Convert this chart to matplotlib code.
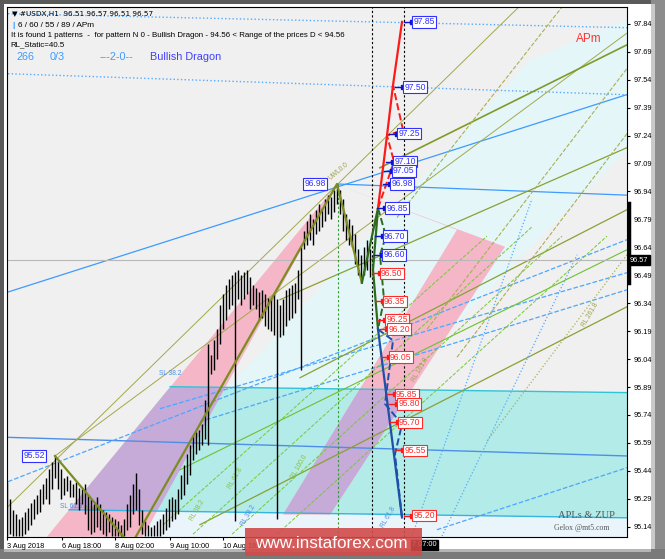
import numpy as np
import matplotlib.pyplot as plt
from matplotlib.patches import Polygon, Rectangle
import matplotlib.transforms as mtransforms

plt.rcParams['font.family'] = ['Liberation Sans', 'DejaVu Sans']

# USDX H1 bars (one entry per drawn bar)
highs = [95.38, 95.29, 95.23, 95.21, 95.18, 95.19, 95.22, 95.24, 95.27, 95.29,
         95.31, 95.34, 95.37, 95.40, 95.45, 95.49, 95.52, 95.49, 95.45, 95.40,
         95.41, 95.39, 95.37, 95.38, 95.35, 95.34, 95.37, 95.31, 95.29, 95.26,
         95.30, 95.26, 95.23, 95.22, 95.21, 95.19, 95.18, 95.17, 95.15, 95.18,
         95.26, 95.31, 95.37, 95.43, 95.34, 95.23, 95.17, 95.15, 95.14, 95.15,
         95.17, 95.18, 95.21, 95.24, 95.29, 95.30, 95.29, 95.34, 95.42, 95.47,
         95.53, 95.58, 95.63, 95.65, 95.66, 95.69, 95.82, 96.12, 96.06, 96.14,
         96.20, 96.33, 96.39, 96.44, 96.47, 96.49, 96.51, 96.52, 96.49, 96.51,
         96.52, 96.48, 96.44, 96.42, 96.40, 96.41, 96.39, 96.37, 96.36, 96.39,
         96.36, 96.33, 96.36, 96.41, 96.42, 96.44, 96.45, 96.52, 96.64, 96.73,
         96.78, 96.82, 96.79, 96.84, 96.87, 96.85, 96.90, 96.92, 96.91, 96.95,
         96.98, 96.95, 96.90, 96.82, 96.79, 96.76, 96.71, 96.63, 96.60, 96.64,
         96.68, 96.63, 96.60]
lows = [95.09, 95.10, 95.09, 95.09, 95.09, 95.09, 95.10, 95.12, 95.15, 95.18,
        95.21, 95.22, 95.26, 95.29, 95.26, 95.34, 95.40, 95.34, 95.29, 95.31,
        95.33, 95.30, 95.30, 95.26, 95.23, 95.26, 95.21, 95.12, 95.10, 95.11,
        95.14, 95.12, 95.10, 95.09, 95.11, 95.09, 95.09, 95.09, 95.09, 95.09,
        95.12, 95.14, 95.21, 95.23, 95.15, 95.10, 95.09, 95.09, 95.09, 95.09,
        95.09, 95.09, 95.10, 95.12, 95.14, 95.17, 95.18, 95.21, 95.29, 95.31,
        95.37, 95.42, 95.50, 95.53, 95.55, 95.58, 95.61, 95.58, 95.96, 95.98,
        96.04, 96.12, 96.20, 96.25, 96.31, 96.33, 95.17, 96.36, 96.33, 96.36,
        96.39, 96.31, 96.33, 96.31, 96.25, 96.26, 96.22, 96.20, 96.19, 96.17,
        95.18, 96.16, 96.17, 96.22, 96.25, 96.26, 96.29, 96.36, 95.98, 96.63,
        96.65, 96.68, 96.65, 96.71, 96.73, 96.75, 96.78, 96.82, 96.79, 96.83,
        96.87, 96.82, 96.73, 96.68, 96.65, 96.64, 96.55, 96.49, 96.46, 96.49,
        96.52, 96.48, 96.56]
last_price = 96.57

y_ticks = [95.14, 95.29, 95.44, 95.59, 95.74, 95.89, 96.04, 96.19, 96.34, 96.49,
           96.64, 96.79, 96.94, 97.09, 97.24, 97.39, 97.54, 97.69, 97.84]
x_tick_pos = [0, 18.3, 36, 54.3, 72, 90, 107.7, 125.7]
# the last three labels sit under the watermark in the source picture
x_tick_labels = ['3 Aug 2018', '6 Aug 18:00', '8 Aug 02:00', '9 Aug 10:00',
                 '10 Aug 18:00', '', '', '']

# X-A-B-C legs of the dragon
xabc_x = [16, 41.3, 110, 118.3]
xabc_y = [95.52, 95.04, 96.98, 96.45]
# projected legs after C
green_x = [118.3, 123.67, 122.0, 123.67]
green_y = [96.45, 96.85, 96.52, 96.20]
green_dash_x = [123.67, 126.33, 124.33, 125.67, 123.67]
green_dash_y = [96.85, 96.70, 96.60, 96.36, 96.20]
red_x = [123.67, 126.67, 128.67, 131.67]
red_y = [96.85, 97.24, 97.51, 97.85]
red_dash_x = [123.67, 129.0, 126.67, 132.0, 128.67]
red_dash_y = [96.85, 97.10, 97.24, 97.27, 97.51]
blue_x = [123.67, 131.67]
blue_y = [96.20, 95.19]
blue_dash_x = [123.67, 128.67, 126.0, 131.67, 129.33, 131.67]
blue_dash_y = [96.20, 96.14, 95.80, 95.69, 95.53, 95.19]

# level boxes: value, left edge (bar)
blue_lbl_vals = [97.85, 97.50, 97.25, 97.10, 97.05, 96.98, 96.85, 96.70, 96.60]
blue_lbl_x = [135, 132, 130, 128.7, 128.3, 127.7, 126, 125.3, 125]
red_lbl_vals = [96.50, 96.35, 96.25, 96.20, 96.05, 95.85, 95.80, 95.70, 95.55, 95.20]
red_lbl_x = [124.3, 125.3, 126, 126.7, 127.3, 129.3, 130, 130.3, 132, 135]
pivot_lbl_vals = [96.98, 95.52]
pivot_lbl_x = [98.7, 5]

# shaded zones (bar, price)
pink1_x = [13.33, 45.33, 110]
pink1_y = [95.087, 95.087, 96.976]
pink2_x = [110, 166, 107.67, 92, 150]
pink2_y = [96.976, 96.643, 95.205, 95.205, 96.734]
band_x = [20.65, 206.67, 206.67, 54.4]
band_y = [95.231, 95.188, 95.86, 95.892]
cyan_x = [73, 137.67, 174.33, 206.67, 206.67, 147.67, 127.67]
cyan_y = [95.876, 97.003, 97.647, 97.862, 97.164, 96.198, 95.876]
low_strip_x = [45.3, 206.67, 206.67, 45.3]
low_strip_y = [95.225, 95.188, 95.085, 95.085]

# lines: x0, y0, x1, y1, colour, style, width
lines = [
    (0.33, 96.40, 206.67, 97.46, '#3d9bff', '-', 0.9),
    (110, 96.98, 206.67, 96.92, '#3d9bff', '-', 0.9),
    (0.33, 95.62, 206.67, 95.52, '#4d8fe8', '-', 1.0),
    (54.4, 95.892, 206.67, 95.86, '#33c3d6', '-', 1.0),
    (20.65, 95.231, 206.67, 95.188, '#33b5e0', '-', 1.0),
    (0.33, 97.894, 206.67, 97.819, '#55aaff', ':', 1.0),
    (0.33, 97.572, 206.67, 97.459, '#55aaff', ':', 1.0),
    (0.33, 95.382, 206.67, 96.681, '#4da6ff', '--', 0.9),
    (143.3, 95.124, 206.67, 95.457, '#4da6ff', '--', 0.9),
    (51, 95.774, 206.67, 96.504, '#4da6ff', '--', 0.9),
    (64.3, 95.704, 206.67, 96.412, '#4da6ff', '--', 0.9),
    (16, 95.52, 206.67, 97.79, '#a3a84a', '-', 0.7),
    (0.33, 95.248, 170.67, 97.931, '#a3a84a', '-', 0.7),
    (124.3, 97.067, 206.67, 97.727, '#7f9a2a', '-', 1.2),
    (91, 96.359, 206.67, 97.175, '#8aa035', '-', 0.9),
    (97.67, 95.94, 206.67, 96.842, '#8aa035', '-', 0.9),
    (64.3, 95.151, 206.67, 96.321, '#8aa035', '-', 0.9),
    (57.67, 95.446, 206.67, 96.627, '#70c030', '-', 0.8),
    (52, 95.15, 160, 96.70, '#77c83a', '--', 0.7),
    (62, 95.10, 175, 96.75, '#77c83a', '--', 0.7),
    (75, 95.10, 185, 96.70, '#77c83a', '--', 0.7),
    (90, 95.10, 200, 96.70, '#77c83a', '--', 0.7),
    (140, 96.20, 206.67, 97.60, '#a9b055', '--', 0.8),
    (150, 96.05, 206.67, 97.25, '#a9b055', '--', 0.8),
    (130, 96.80, 185, 97.93, '#a9b055', '--', 0.8),
    (160, 95.60, 206.67, 96.60, '#a9b055', ':', 0.9),
    (135, 95.09, 175, 96.90, '#55aaff', ':', 0.9),
    (145, 95.09, 190, 96.60, '#55aaff', ':', 0.9),
]

# line labels: text, bar, price, angle, colour
line_notes = [
    ('UWL0.0', 110.5, 97.05, 40, '#a0a050'),
    ('SL 38.2', 54.5, 95.96, 0, '#4d8fe8'),
    ('SL 61.8', 21.5, 95.25, 0, '#4d8fe8'),
    ('½ ML', 28, 95.24, 0, '#8a9a3a'),
    ('RL 100.0', 97.5, 95.46, 60, '#88c040'),
    ('RL 61.8', 76, 95.40, 60, '#88c040'),
    ('RL 38.2', 63.3, 95.23, 60, '#88c040'),
    ('RL 38.2', 80.3, 95.20, 60, '#4d8fe8'),
    ('RL 61.8', 127, 95.19, 60, '#4d8fe8'),
    ('RL 161.8', 137.7, 95.98, 60, '#a0a050'),
    ('RL 261.8', 194.3, 96.28, 60, '#a0a050'),
]

W, H = 665, 559
fig = plt.figure(figsize=(W / 100, H / 100), dpi=100, facecolor='#5a5a5a')


def px_rect(x, y, w, h, color, z=0):
    fig.add_artist(Rectangle((x / W, 1 - (y + h) / H), w / W, h / H,
                             transform=fig.transFigure, color=color, zorder=z, lw=0))


# outer frame and bevel
px_rect(4, 4, 647, 545, '#ffffff')
px_rect(651, 0, 14, H, '#8c8c8c')
px_rect(651, 4, 4, 545, '#c9c9c9')
px_rect(0, 549, W, 10, '#7a7a7a')
px_rect(4, 549, 647, 3, '#b5b5b5')

ax = fig.add_axes([7 / W, (H - 537) / H, 620 / W, 530 / H])
ax.set_facecolor('#f0f0f0')
ax.set_xlim(0, 206.67)
ax.set_ylim(95.085, 97.93)

# zones
ax.add_patch(Polygon(list(zip(cyan_x, cyan_y)), closed=True, fc='#e4f6f8', ec='none', zorder=0.5))
ax.add_patch(Polygon(list(zip(low_strip_x, low_strip_y)), closed=True, fc='#eaf5fb', ec='none', zorder=0.5))
band = Polygon(list(zip(band_x, band_y)), closed=True, fc='#b2ebe7', ec='none', zorder=0.8)
ax.add_patch(band)
for px_, py_ in [(pink1_x, pink1_y), (pink2_x, pink2_y)]:
    ax.add_patch(Polygon(list(zip(px_, py_)), closed=True, fc='#f5b6c8', ec='none', zorder=1))
    purple = Polygon(list(zip(px_, py_)), closed=True, fc='#c6aad8', ec='none', zorder=1.1)
    ax.add_patch(purple)
    purple.set_clip_path(band)

for x0, y0, x1, y1, c, ls, lw in lines:
    ax.plot([x0, x1], [y0, y1], color=c, ls=ls, lw=lw, zorder=2)

ax.axhline(last_price, color='#b8b8b8', lw=0.8, zorder=2)
ax.axvline(121.67, color='black', ls=(0, (2, 2)), lw=0.8, zorder=2)
ax.axvline(132.33, color='black', ls=(0, (2, 2)), lw=0.8, zorder=2)
ax.plot([110.3, 110.3], [96.98, 95.0], color='#339933', ls=(0, (2, 2)), lw=0.8, zorder=2)

# bars
n = len(highs)
ax.vlines(np.arange(n), lows, highs, color='black', lw=1.0, zorder=3)

# pattern legs
ax.plot(xabc_x, xabc_y, color='#7d8c1f', lw=1.6, zorder=4)
ax.plot(green_x, green_y, color='#2e6b1e', lw=1.6, zorder=4)
ax.plot(green_dash_x, green_dash_y, color='#2e6b1e', lw=1.4, ls='--', zorder=4)
ax.plot(red_x, red_y, color='#ff1a1a', lw=1.6, zorder=4)
ax.plot(red_dash_x, red_dash_y, color='#ff1a1a', lw=1.4, ls='--', zorder=4)
ax.plot(blue_x, blue_y, color='#1f4fa8', lw=1.6, zorder=4)
ax.plot(blue_dash_x, blue_dash_y, color='#1f4fa8', lw=1.4, ls='--', zorder=4)


def level_box(x, v, tc, ec, mc):
    ax.plot([x - 2.5, x], [v, v], color=mc, lw=1.0, zorder=5)
    ax.plot([x], [v], marker='s', ms=2.5, color=mc, zorder=5)
    ax.text(x + 0.4, v, f'{v:.2f}', fontsize=6.2, color=tc, ha='left', va='center', zorder=6,
            bbox=dict(boxstyle='square,pad=0.15', fc='white', ec=ec, lw=0.8))


for v, x in zip(blue_lbl_vals, blue_lbl_x):
    level_box(x, v, '#3030ff', '#3030ff', '#1010d0')
for v, x in zip(red_lbl_vals, red_lbl_x):
    level_box(x, v, '#ff2a2a', '#ff2a2a', '#ff1a1a')
for v, x in zip(pivot_lbl_vals, pivot_lbl_x):
    ax.text(x + 0.4, v, f'{v:.2f}', fontsize=6.2, color='#3030ff', ha='left', va='center', zorder=6,
            bbox=dict(boxstyle='square,pad=0.15', fc='white', ec='#3030ff', lw=0.8))

for s, x, y, r, c in line_notes:
    ax.text(x, y, s, fontsize=4.8, color=c, rotation=r, ha='center', va='center', zorder=2.5)

# axes styling
for sp in ax.spines.values():
    sp.set_color('black')
    sp.set_linewidth(0.8)
ax.yaxis.tick_right()
ax.set_yticks(y_ticks)
ax.set_yticklabels([f'{v:.2f}' for v in y_ticks])
ax.tick_params(axis='y', labelsize=5.3, length=2.5, pad=2, colors='black')
ax.set_xticks(x_tick_pos)
ax.set_xticklabels(x_tick_labels, ha='left')
ax.tick_params(axis='x', labelsize=5.3, length=2.5, pad=2, colors='black')

tr = mtransforms.blended_transform_factory(ax.transAxes, ax.transData)
ax.plot([1.003, 1.003], [96.45, 96.88], transform=tr, color='black', lw=2.5, clip_on=False, zorder=7)
ax.text(1.005, last_price, '96.57', transform=tr, fontsize=5.3, color='white', ha='left', va='center',
        zorder=8, bbox=dict(boxstyle='square,pad=0.2', fc='black', ec='black'))

# header texts
ax.text(0.008, 0.987, '▼ #USDX,H1  96.51 96.57 96.51 96.57', transform=ax.transAxes,
        fontsize=5.2, color='black', va='center', family=['DejaVu Sans'], zorder=9)
ax.text(0.009, 0.965, '|', transform=ax.transAxes, fontsize=6, color='#3d9bff', va='center',
        fontweight='bold', zorder=9)
ax.text(0.018, 0.965, '6 / 60 / 55 / 89 / APm', transform=ax.transAxes, fontsize=5.9,
        color='black', va='center', zorder=9)
ax.text(0.006, 0.947, 'It is found 1 patterns  -  for pattern N 0 - Bullish Dragon - 94.56 < '
        'Range of the prices D < 94.56', transform=ax.transAxes, fontsize=5.7, color='black',
        va='center', zorder=9)
ax.text(0.006, 0.928, 'RL_Static=40.5', transform=ax.transAxes, fontsize=5.7, color='black',
        va='center', zorder=9)
for s, xx, c in [('266', 0.016, '#3d9bff'), ('0/3', 0.069, '#3d9bff'),
                 ('---2-0--', 0.150, '#3d9bff'), ('Bullish Dragon', 0.231, '#4040ff')]:
    ax.text(xx, 0.906, s, transform=ax.transAxes, fontsize=7.8, color=c, va='center', zorder=9)

ax.text(0.918, 0.939, 'APm', transform=ax.transAxes, fontsize=8.5, color='#ff3333', va='center', zorder=9)
ax.text(0.889, 0.04, 'APLs & ZUP', transform=ax.transAxes, fontsize=7.6, color='#555555',
        family=['Liberation Serif'], va='center', zorder=9)
ax.text(0.882, 0.017, 'Gelox @mt5.com', transform=ax.transAxes, fontsize=5.6, color='#555555',
        family=['Liberation Serif'], va='center', zorder=9)

# time label of the dotted line, mostly under the watermark
fig.text(437 / W, 1 - 545 / H, '7 07:00', fontsize=5.3, color='white', ha='right',
         va='center', zorder=10, bbox=dict(boxstyle='square,pad=0.2', fc='black', ec='black'))
fig.add_artist(Rectangle((245 / W, 1 - 556 / H), 177 / W, 28 / H, transform=fig.transFigure,
                         fc='#d24a4a', alpha=0.9, lw=0, zorder=11))
fig.text(255 / W, 1 - 544 / H, 'www.instaforex.com', fontsize=12.3, color='white', va='center',
         zorder=12)

fig.savefig('out.png', dpi=100, facecolor=fig.get_facecolor())
